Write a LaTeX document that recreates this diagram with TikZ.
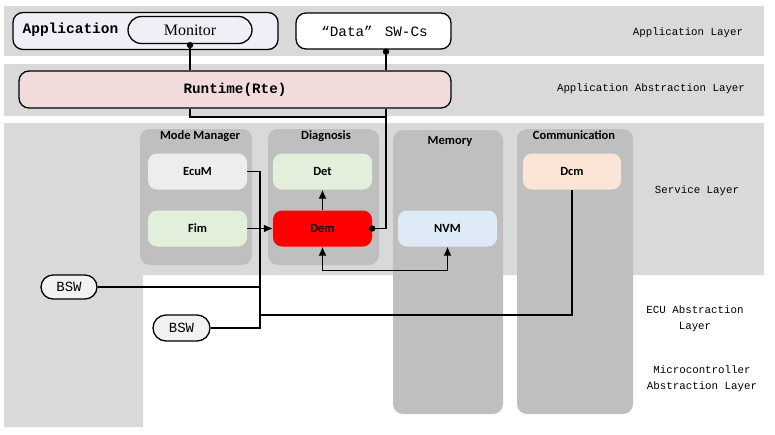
\documentclass[tikz,border=0pt]{standalone}
\usepackage{fontspec}
\newfontfamily\monof{Liberation Mono}
\newfontfamily\calf{Carlito}
\newfontfamily\seriff{Liberation Serif}
\usetikzlibrary{arrows.meta}
\definecolor{band}{HTML}{D9D9D9}
\definecolor{contgray}{HTML}{BFBFBF}
\definecolor{appfill}{HTML}{EFEFF7}
\definecolor{rtefill}{HTML}{F2DCDB}
\definecolor{ecumfill}{HTML}{EDEDED}
\definecolor{greenfill}{HTML}{E2EFDA}
\definecolor{demfill}{HTML}{FF0000}
\definecolor{nvmfill}{HTML}{DEEBF7}
\definecolor{dcmfill}{HTML}{FBE5D6}
\definecolor{bswfill}{HTML}{F2F2F2}
\begin{document}
\begin{tikzpicture}[x=1pt,y=-1pt,
  cont/.style={fill=contgray, rounded corners=10pt, inner sep=0pt, draw=none},
  ctitle/.style={font=\calf\bfseries\fontsize{12.5}{14}\selectfont, inner sep=0pt},
  inbox/.style={rounded corners=9pt, minimum width=99pt, minimum height=36pt, inner sep=0pt,
    font=\calf\bfseries\fontsize{12.5}{14}\selectfont},
  bbox/.style={draw=black, line width=1.3pt, inner sep=0pt},
  layertxt/.style={font=\monof\fontsize{10.8}{16}\selectfont, align=center, inner sep=0pt},
  conn/.style={line width=1.3pt, draw=black},
  arr/.style={conn, -{Latex[length=9pt,width=8pt]}},
  darr/.style={conn, {Latex[length=9pt,width=8pt]}-{Latex[length=9pt,width=8pt]}},
  dotdot/.style={fill=black, radius=3.2pt}
]
\useasboundingbox (0,0) rectangle (775,434);
% layer bands
\fill[band] (4,6) rectangle (764,56);
\fill[band] (4,64) rectangle (764,116);
\fill[band] (4,123) -- (764,123) -- (764,275) -- (143,275) -- (143,427) -- (4,427) -- cycle;

% layer labels
\node[layertxt] (l1) at (688,33) {Application Layer};
\node[layertxt] (l2) at (651,89) {Application Abstraction Layer};
\node[layertxt] (l3) at (697,191) {Service Layer};
\node[layertxt] (l4) at (695,319) {ECU Abstraction\\Layer};
\node[layertxt] (l5) at (702,379) {Microcontroller\\Abstraction Layer};

% application layer
\node[bbox, fill=appfill, rounded corners=10pt, minimum width=265pt, minimum height=37pt] (app) at (145.5,31) {};
\node[inner sep=0pt, font=\monof\bfseries\fontsize{14.5}{16}\selectfont] (apptxt) at (70.5,29.5) {Application};
\node[bbox, fill=appfill, rounded corners=13.5pt, minimum width=124pt, minimum height=27pt,
  font=\seriff\fontsize{16}{16}\selectfont] (mon) at (190,30) {Monitor};
\node[bbox, fill=white, rounded corners=10pt, minimum width=155pt, minimum height=36pt,
  font=\monof\fontsize{14.3}{16}\selectfont] (data) at (373.5,31) {\hspace{2pt}“Data”\hspace{12pt}SW-Cs};

% rte
\node[bbox, fill=rtefill, rounded corners=10pt, minimum width=432pt, minimum height=37pt,
  font=\monof\bfseries\fontsize{14.3}{16}\selectfont] (rte) at (235,89.5) {Runtime(Rte)};

% containers
\node[cont, minimum width=112pt, minimum height=136pt] (mm) at (196,197) {};
\node[cont, minimum width=111pt, minimum height=136pt] (diag) at (323.5,197) {};
\node[cont, minimum width=110pt, minimum height=284pt] (mem) at (448,272) {};
\node[cont, minimum width=116pt, minimum height=285pt] (com) at (575,271.5) {};
\node[ctitle] (mmt) at (200,136) {Mode Manager};
\node[ctitle] (diagt) at (326,136) {Diagnosis};
\node[ctitle] (memt) at (450,141) {Memory};
\node[ctitle] (comt) at (574,135) {Communication};

% inner nodes
\node[inbox, fill=ecumfill] (ecum) at (197.5,171.5) {EcuM};
\node[inbox, fill=greenfill] (fim) at (197.5,228.5) {Fim};
\node[inbox, fill=greenfill] (det) at (322.5,171.5) {Det};
\node[inbox, fill=demfill] (dem) at (322.5,228.5) {Dem};
\node[inbox, fill=nvmfill] (nvm) at (447.5,228.5) {NVM};
\node[inbox, fill=dcmfill, minimum width=98pt] (dcm) at (572,171.5) {Dcm};

% BSW
\node[bbox, fill=bswfill, rounded corners=12pt, minimum width=56pt, minimum height=24pt,
  font=\monof\fontsize{14}{16}\selectfont] (bsw1) at (69,287) {BSW};
\node[bbox, fill=bswfill, rounded corners=13pt, minimum width=57pt, minimum height=26pt,
  font=\monof\fontsize{14}{16}\selectfont] (bsw2) at (181.5,328) {BSW};

% coordinates
\coordinate (dd) at ([xshift=12.5pt,yshift=-2pt]data.south);
\coordinate (rl) at (190,117);
\coordinate (rr) at (386,117);
\coordinate (jx) at (260,0);
\coordinate (jd) at (260,315);

% connectors
\draw[conn] ([yshift=-1pt]mon.south) -- (mon.south |- rte.north);
\fill[dotdot] ([yshift=-1pt]mon.south) circle;
\draw[conn] (dd) -- (dd |- rte.north);
\fill[dotdot] (dd) circle;
\draw[conn] (mon.south |- rte.south) -- (rl) -- (rr) -- (rr |- dem.east) -- (dem.east);
\draw[conn] (dd |- rte.south) -- (rr);
\fill[dotdot] (dem.east) circle;

\draw[arr] (fim.east) -- (dem.west);
\draw[arr] (dem.north) -- (det.south);
\draw[darr] (dem.south) -- ++(0,24) -| (nvm.south);

\draw[conn] (ecum.east) -| (bsw2.east -| jx) -- (bsw2.east);
\draw[conn] (bsw1.east) -- (bsw1.east -| jx);
\draw[conn] (jd) -| (dcm.south);
\end{tikzpicture}
\end{document}
